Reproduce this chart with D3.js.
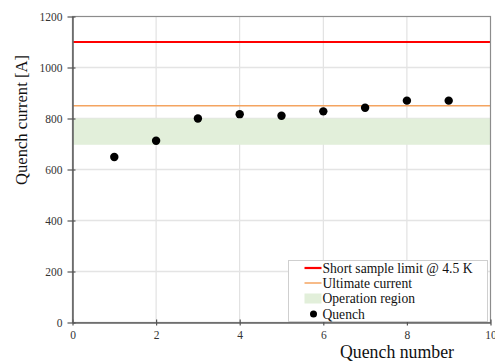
<!DOCTYPE html>
<html>
<head>
<meta charset="UTF-8">
<script src="https://cdn.jsdelivr.net/npm/d3@7"></script>
<style>
  body { margin: 0; background: #fff; }
  svg text { font-family: "Liberation Serif", "Times New Roman", serif; }
</style>
</head>
<body>
<script>
const quenchNumbers = [1, 2, 3, 4, 5, 6, 7, 8, 9];
const quenchCurrents = [649, 713, 800, 817, 811, 828, 842, 870, 870];
const shortSampleLimit = 1100;
const ultimateCurrent = 850;
const operationRegion = [697, 800];
const xTicks = [0, 2, 4, 6, 8, 10];
const yTicks = [0, 200, 400, 600, 800, 1000, 1200];
const legendLabels = ["Short sample limit @ 4.5 K", "Ultimate current", "Operation region", "Quench"];

const width = 495, height = 362;
const margin = {top: 16.5, right: 4.5, bottom: 39.5, left: 72.5};

const svg = d3.select("body").append("svg")
    .attr("width", width)
    .attr("height", height);

const x = d3.scaleLinear().domain([0, 10]).range([margin.left, width - margin.right]);
const y = d3.scaleLinear().domain([0, 1200]).range([height - margin.bottom, margin.top]);

// grid
svg.append("g")
    .selectAll("line")
    .data(xTicks.slice(1, -1))
    .enter().append("line")
    .attr("x1", d => x(d)).attr("x2", d => x(d))
    .attr("y1", y(0)).attr("y2", y(1200))
    .attr("stroke", "#dcdcdc").attr("stroke-width", 1);

svg.append("g")
    .selectAll("line")
    .data(yTicks.slice(1, -1))
    .enter().append("line")
    .attr("x1", x(0)).attr("x2", x(10))
    .attr("y1", d => y(d)).attr("y2", d => y(d))
    .attr("stroke", "#e4e4e4").attr("stroke-width", 1.5);

// operation band
svg.append("rect")
    .attr("x", x(0))
    .attr("y", y(operationRegion[1]))
    .attr("width", x(10) - x(0))
    .attr("height", y(operationRegion[0]) - y(operationRegion[1]))
    .attr("fill", "#e2efda");

// limit lines
svg.append("line")
    .attr("x1", x(0)).attr("x2", x(10))
    .attr("y1", y(shortSampleLimit)).attr("y2", y(shortSampleLimit))
    .attr("stroke", "#ff0000").attr("stroke-width", 2.2);

svg.append("line")
    .attr("x1", x(0)).attr("x2", x(10))
    .attr("y1", y(ultimateCurrent)).attr("y2", y(ultimateCurrent))
    .attr("stroke", "#f4a460").attr("stroke-width", 1.3);

// frame
svg.append("rect")
    .attr("x", x(0)).attr("y", y(1200))
    .attr("width", x(10) - x(0)).attr("height", y(0) - y(1200))
    .attr("fill", "none").attr("stroke", "#8c8c8c").attr("stroke-width", 1.2);

// axes
const xAxis = svg.append("g")
    .attr("transform", `translate(0,${y(0)})`)
    .call(d3.axisBottom(x).tickValues(xTicks).tickFormat(d3.format("d")).tickSize(4).tickSizeOuter(0));
const yAxis = svg.append("g")
    .attr("transform", `translate(${x(0)},0)`)
    .call(d3.axisLeft(y).tickValues(yTicks).tickFormat(d3.format("d")).tickSize(4).tickSizeOuter(0));

[xAxis, yAxis].forEach(g => {
    g.attr("font-family", null);
    g.select(".domain").attr("stroke", "#666").attr("stroke-width", 1.6);
    g.selectAll(".tick line").attr("stroke", "#555").attr("stroke-width", 1.2);
    g.selectAll(".tick text")
        .attr("fill", "#333")
        .style("font-size", "11.5px")
        .style("font-family", "'Liberation Serif', serif");
});
xAxis.selectAll(".tick line").attr("y1", -3).attr("y2", 3);
xAxis.selectAll(".tick text").attr("y", 8);
yAxis.selectAll(".tick line").attr("x1", 3).attr("x2", -5);
yAxis.selectAll(".tick text").attr("x", -10);

// axis titles
svg.append("text")
    .attr("x", 397)
    .attr("y", 358)
    .attr("text-anchor", "middle")
    .attr("font-size", 17.8)
    .attr("fill", "#111")
    .text("Quench number");

svg.append("text")
    .attr("transform", "translate(27,120) rotate(-90)")
    .attr("text-anchor", "middle")
    .attr("font-size", 16.6)
    .attr("fill", "#111")
    .text("Quench current [A]");

// points
svg.append("g")
    .selectAll("circle")
    .data(quenchNumbers)
    .enter().append("circle")
    .attr("cx", d => x(d))
    .attr("cy", (d, i) => y(quenchCurrents[i]))
    .attr("r", 4.2)
    .attr("fill", "#000");

// legend
const lg = svg.append("g").attr("transform", "translate(288.5,260.5)");
lg.append("rect")
    .attr("width", 199).attr("height", 61)
    .attr("fill", "#fff").attr("stroke", "#cfcfcf").attr("stroke-width", 1);

const rowY = [7.5, 22.5, 38, 53.5];
lg.append("line").attr("x1", 16).attr("x2", 33).attr("y1", rowY[0]).attr("y2", rowY[0])
    .attr("stroke", "#ff0000").attr("stroke-width", 2.2);
lg.append("line").attr("x1", 16).attr("x2", 33).attr("y1", rowY[1]).attr("y2", rowY[1])
    .attr("stroke", "#f4a460").attr("stroke-width", 1.5);
lg.append("rect").attr("x", 16).attr("y", rowY[2] - 5).attr("width", 17).attr("height", 10)
    .attr("fill", "#e2efda");
lg.append("circle").attr("cx", 25).attr("cy", rowY[3]).attr("r", 3.5).attr("fill", "#000");

lg.selectAll("text")
    .data(legendLabels)
    .enter().append("text")
    .attr("x", 34)
    .attr("y", (d, i) => rowY[i])
    .attr("dy", "0.35em")
    .attr("font-size", 13.6)
    .attr("fill", "#111")
    .text(d => d);
</script>
</body>
</html>
